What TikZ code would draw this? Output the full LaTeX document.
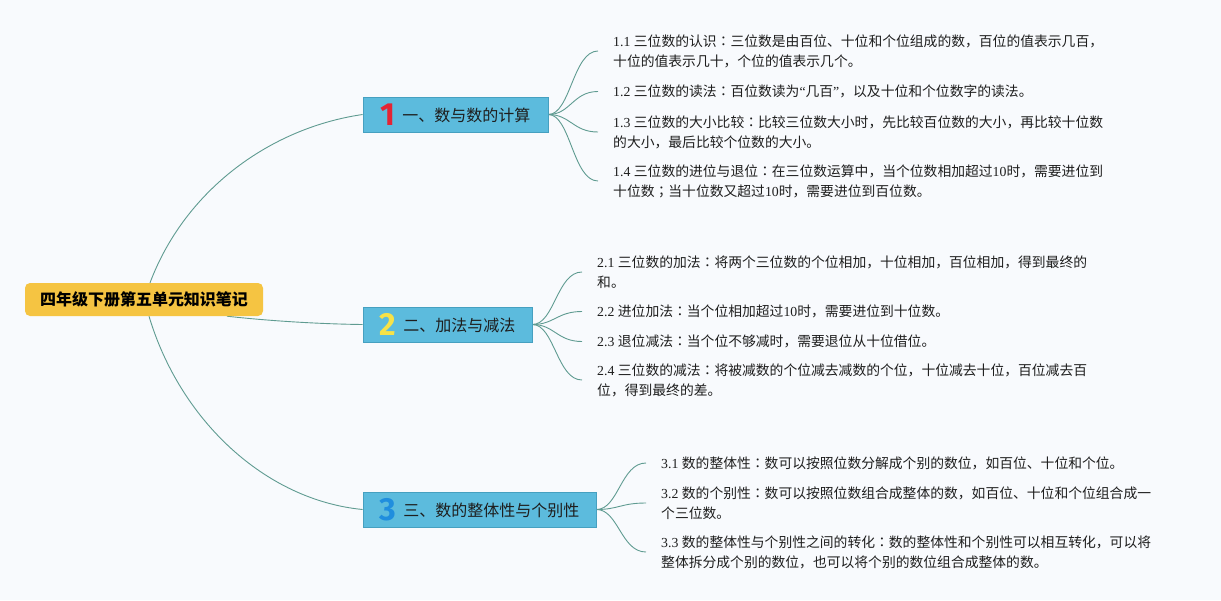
\documentclass[tikz,border=0pt]{standalone}
\usepackage{fontspec}
\setmainfont{Noto Sans CJK SC}
\newfontfamily\latfont{Liberation Serif}
\newfontfamily\numfont{Fira Sans}
\newfontfamily\tcfont{Noto Sans CJK TC}
\newcommand{\ltn}[1]{{\latfont #1}}
\newcommand{\cln}{{\tcfont ：}}
\newcommand{\smc}{{\tcfont ；}}
\definecolor{bgc}{RGB}{248,250,253}
\definecolor{rootc}{RGB}{245,196,66}
\definecolor{boxc}{RGB}{92,187,221}
\definecolor{boxd}{RGB}{70,160,192}
\definecolor{linkc}{RGB}{95,155,145}
\definecolor{txt}{RGB}{30,30,30}
\definecolor{nred}{RGB}{228,36,52}
\definecolor{nyel}{RGB}{247,226,72}
\definecolor{nblu}{RGB}{32,142,222}
\pgfdeclarelayer{bg}
\pgfdeclarelayer{edges}
\pgfsetlayers{bg,edges,main}
\newcommand{\bnum}[2]{\raisebox{-4pt}{\numfont\bfseries\fontsize{32}{32}\selectfont\color{#1}#2}\hspace{7pt}}
\begin{document}
\begin{tikzpicture}[x=1pt,y=-1pt,
  rootbox/.style={fill=rootc, rounded corners=5pt, minimum width=238pt, minimum height=33pt, inner sep=0pt, font=\fontsize{16}{18}\selectfont\bfseries, text=black},
  branchbox/.style={draw=boxd, fill=boxc, line width=0.8pt, minimum height=35pt, inner sep=0pt, font=\fontsize{16}{18}\selectfont, text=txt},
  leaf/.style={anchor=west, align=left, inner xsep=15pt, inner ysep=2pt, font=\fontsize{13.8}{20}\selectfont, text=txt},
  link/.style={draw=linkc, line width=0.9pt}]
\path[use as bounding box] (0,0) rectangle (1221,600);
\begin{pgfonlayer}{bg}
\fill[bgc] (0,0) rectangle (1221,600);
\end{pgfonlayer}

\node[rootbox] (root) at (144,299.5) {四年级下册第五单元知识笔记};

\node[branchbox, minimum width=185pt] (b1) at (455.5,114.5) {\bnum{nred}{1}一、数与数的计算};
\node[branchbox, minimum width=169pt] (b2) at (447.5,324.5) {\bnum{nyel}{2}二、加法与减法};
\node[branchbox, minimum width=233pt] (b3) at (479.5,509.5) {\bnum{nblu}{3}三、数的整体性与个别性};

\node[leaf] (c11) at (598,51) {\ltn{1.1 }三位数的认识\cln 三位数是由百位、十位和个位组成的数，百位的值表示几百，\\十位的值表示几十，个位的值表示几个。};
\node[leaf] (c12) at (598,91.5) {\ltn{1.2 }三位数的读法\cln 百位数读为\ltn{“}几百\ltn{”}，以及十位和个位数字的读法。};
\node[leaf] (c13) at (598,132) {\ltn{1.3 }三位数的大小比较\cln 比较三位数大小时，先比较百位数的大小，再比较十位数\\的大小，最后比较个位数的大小。};
\node[leaf] (c14) at (598,181) {\ltn{1.4 }三位数的进位与退位\cln 在三位数运算中，当个位数相加超过\ltn{10}时，需要进位到\\十位数\smc 当十位数又超过\ltn{10}时，需要进位到百位数。};

\node[leaf] (c21) at (582,272) {\ltn{2.1 }三位数的加法\cln 将两个三位数的个位相加，十位相加，百位相加，得到最终的\\和。};
\node[leaf] (c22) at (582,311.5) {\ltn{2.2 }进位加法\cln 当个位相加超过\ltn{10}时，需要进位到十位数。};
\node[leaf] (c23) at (582,341.5) {\ltn{2.3 }退位减法\cln 当个位不够减时，需要退位从十位借位。};
\node[leaf] (c24) at (582,380) {\ltn{2.4 }三位数的减法\cln 将被减数的个位减去减数的个位，十位减去十位，百位减去百\\位，得到最终的差。};

\node[leaf] (c31) at (646,463) {\ltn{3.1 }数的整体性\cln 数可以按照位数分解成个别的数位，如百位、十位和个位。};
\node[leaf] (c32) at (646,503) {\ltn{3.2 }数的个别性\cln 数可以按照位数组合成整体的数，如百位、十位和个位组合成一\\个三位数。};
\node[leaf] (c33) at (646,552) {\ltn{3.3 }数的整体性与个别性之间的转化\cln 数的整体性和个别性可以相互转化，可以将\\整体拆分成个别的数位，也可以将个别的数位组合成整体的数。};

\begin{pgfonlayer}{edges}
\draw[link] ([xshift=6pt]root.north) .. controls (185,190) and (270,128) .. (b1.west);
\draw[link] ([xshift=83pt]root.south) .. controls (270,321) and (320,324) .. (b2.west);
\draw[link] ([xshift=5pt]root.south) .. controls (180,420) and (265,500) .. (b3.west);
\foreach \c in {c11,c12,c13,c14}
  \draw[link] (b1.east) .. controls +(22,0) and +(-25,0) .. (\c.west);
\foreach \c in {c21,c22,c23,c24}
  \draw[link] (b2.east) .. controls +(22,0) and +(-25,0) .. (\c.west);
\foreach \c in {c31,c32,c33}
  \draw[link] (b3.east) .. controls +(22,0) and +(-25,0) .. (\c.west);
\end{pgfonlayer}
\end{tikzpicture}
\end{document}
